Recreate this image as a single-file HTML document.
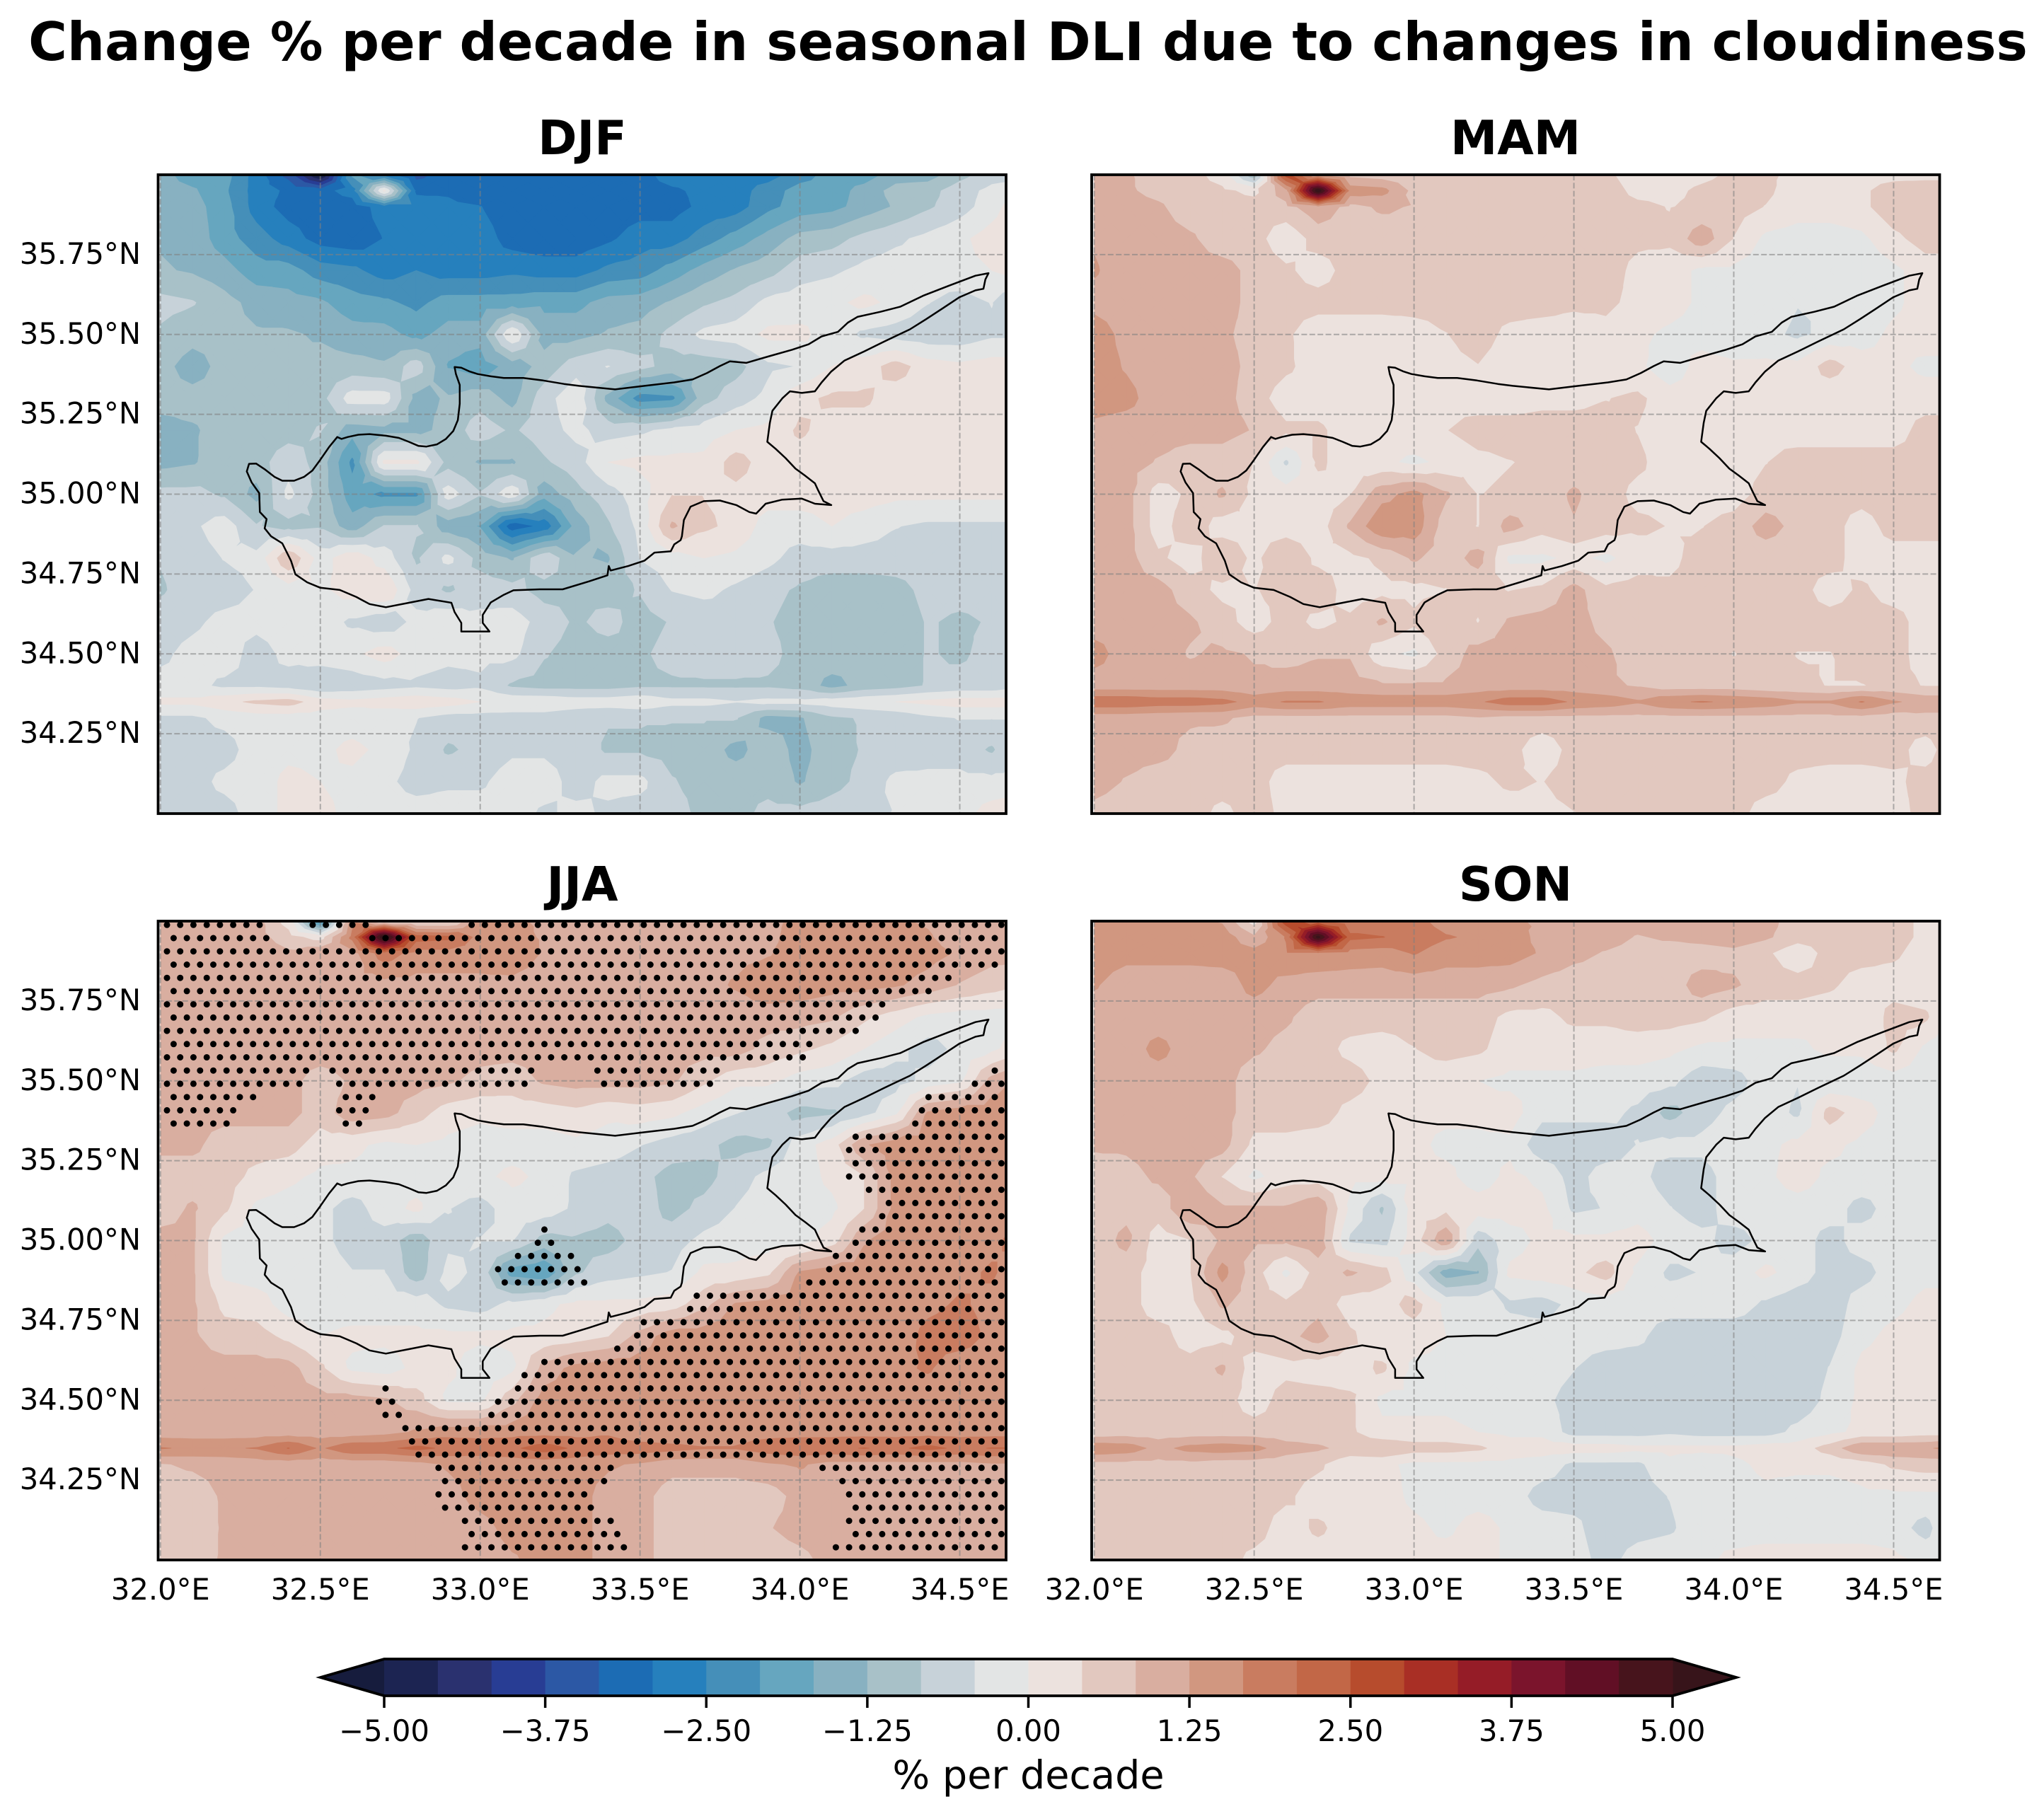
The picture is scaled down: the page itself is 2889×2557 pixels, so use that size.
<!DOCTYPE html>
<html lang="en">
<head>
<meta charset="utf-8">
<title>Change % per decade in seasonal DLI due to changes in cloudiness</title>
<style>
html,body{margin:0;padding:0;background:#fff;}
svg{display:block;}
text{font-family:"DejaVu Sans","Liberation Sans",sans-serif;fill:#000;}
.title{font-weight:bold;font-size:74.7px;text-anchor:middle;}
.ptitle{font-weight:bold;font-size:66.6px;text-anchor:middle;}
.tick{font-size:41.67px;}
</style>
</head>
<body>
<svg id="fig" xmlns="http://www.w3.org/2000/svg" width="2889" height="2557" viewBox="0 0 2889 2557">
<rect x="0" y="0" width="2889" height="2557" fill="#fff"/>
<text class="title" x="1453" y="85">Change % per decade in seasonal DLI due to changes in cloudiness</text>
<text class="ptitle" x="823" y="218">DJF</text>
<text class="ptitle" x="2142" y="218">MAM</text>
<text class="ptitle" x="823" y="1273">JJA</text>
<text class="ptitle" x="2142" y="1273">SON</text>
<text class="cbar-label" x="1453.5" y="2528" font-size="55.6" text-anchor="middle">% per decade</text>
<g id="panels"></g>
<g id="colorbar"></g>
</svg>
<script>
const lonValues=[32,32.1,32.2,32.3,32.4,32.5,32.6,32.7,32.8,32.9,33,33.1,33.2,33.3,33.4,33.5,33.6,33.7,33.8,33.9,34,34.1,34.2,34.3,34.4,34.5,34.6,34.65];
const latValues=[36,35.95,35.9,35.8,35.7,35.6,35.5,35.4,35.3,35.2,35.1,35,34.9,34.8,34.7,34.6,34.5,34.4,34.35,34.3,34.2,34.1,34];
const lonTicks=[32,32.5,33,33.5,34,34.5];
const lonTickLabels=["32.0°E","32.5°E","33.0°E","33.5°E","34.0°E","34.5°E"];
const latTicks=[35.75,35.5,35.25,35,34.75,34.5,34.25];
const latTickLabels=["35.75°N","35.50°N","35.25°N","35.00°N","34.75°N","34.50°N","34.25°N"];
const colorbarTicks=[-5,-3.75,-2.5,-1.25,0,1.25,2.5,3.75,5];
const colorbarTickLabels=["−5.00","−3.75","−2.50","−1.25","0.00","1.25","2.50","3.75","5.00"];
const bandColors=["#161c3d","#1c2452","#2a316f","#283d94","#2c58a5","#1c6cb4","#2680bd","#458fb9","#66a6bf","#88b1c1","#a8c1c8","#c7d2d9","#e3e5e5","#ece2de","#e2c8bf","#d9aea0","#d19780","#c97c60","#c26747","#b74c2d","#a92f25","#951c27","#7b142c","#610f25","#47141c","#37141a"];
const djfValues=[
[-1.5,-1.9,-1.9,-2.7,-3.5,-5.2,-2,-2.7,-3.5,-3.1,-3.1,-3.1,-3.1,-3.1,-3.1,-3.1,-2.7,-2.7,-2.7,-2.7,-2.3,-1.9,-1.9,-1.45,-1.45,-1,-.6,-.6],
[-1.5,-1.6,-2,-2.7,-3,-3.1,-2.7,.1,-3,-3,-3.3,-3.1,-3,-3,-3.1,-3.1,-3,-2.8,-2.7,-2.3,-1.9,-1.9,-1.5,-1.1,-1,-.6,-.3,-.2],
[-1.4,-1.5,-1.9,-2.7,-3.1,-3.2,-3.2,-2.7,-2.7,-2.8,-2.9,-3.2,-3.2,-3.2,-3.2,-3.1,-3.1,-2.8,-2.7,-2.2,-1.9,-1.8,-1.5,-1.2,-.9,-.6,-.2,.1],
[-1.3,-1.4,-1.9,-2.3,-2.7,-3.1,-3.2,-2.9,-2.7,-2.7,-2.7,-3.1,-3.2,-3.2,-3,-2.7,-2.7,-2.3,-1.9,-1.5,-1.1,-1,-.7,-.5,-.3,-.1,.2,.3],
[-1.2,-1.3,-1.5,-1.9,-1.9,-2.3,-2.4,-2.7,-2.5,-2.7,-2.7,-2.6,-2.7,-2.7,-2.4,-2.3,-1.9,-1.5,-1.2,-1,-.6,-.5,-.3,-.2,-.2,-.1,0,.1],
[-.7,-.8,-1.1,-1.4,-1.5,-1.6,-1.9,-2,-2.2,-1.9,-1.9,-1.9,-1.8,-1.8,-1.5,-1.45,-1.2,-.9,-.7,-.3,-.2,-.1,.1,-.1,-.4,-.6,-.4,-.7],
[-.9,-1.1,-1.1,-1.2,-1.2,-1.3,-1.5,-1.5,-1.8,-1.5,-1.5,0,-1.4,-1.4,-1.2,-1.1,-.7,-.3,-.2,.1,.1,-.2,-.5,-.6,-.7,-.7,-.5,-.5],
[-1.1,-1.45,-1.1,-1.1,-1.2,-1.1,-1.1,-1.2,-.6,-1.7,-1.9,-1.5,-1.1,-.6,-.4,-.7,-1,-1.1,-1,-.5,-.4,0,.2,.6,.2,.1,.2,.2],
[-1.1,-1.1,-1.1,-1.1,-1,-1,-.2,-.2,-1.4,-1.2,-1,-1.4,-.6,-.1,-1.4,-2.3,-2.2,-1,-.6,-.3,.3,.5,.5,.2,.2,.2,.2,.2],
[-1.4,-1.3,-1.1,-1.1,-1,-.8,-1.5,-1.4,-1.4,-1.1,-.6,-.9,-.6,-.3,-.6,-.5,-.3,-.2,0,.1,.5,.2,.2,.2,.2,.2,.2,.2],
[-1.4,-1.3,-1,-1,-.6,-1,-2.2,.1,.1,-1,-1.3,-1.3,-.9,-.6,0,.1,.1,.1,.6,.2,.2,.1,.2,.2,.2,.2,.2,.2],
[-.7,-.7,-.9,-1.4,-.3,-1,-1.9,-2.2,-2.2,-.2,-.8,-.1,-1.5,-1,-.6,-.2,.4,.4,.3,.2,.2,.2,.2,.1,.1,.1,.1,.1],
[-.6,-.5,-.2,-.8,-1,-.9,-1.5,-.8,-.8,-1.5,-1.7,-3.2,-2.8,-1.5,-.9,-.3,.9,.5,.3,-.2,-.2,0,-.2,-.4,-.5,-.5,-.5,-.5],
[-.8,-.6,-.4,-.3,.8,-.2,.3,-.2,-.9,-.3,-1,-1.3,-.5,-1.2,-1.3,-.4,-.2,0,-.1,-.3,-.6,-.6,-.6,-.6,-.6,-.7,-.7,-.7],
[-.9,-.6,-.6,-.4,-.2,-.1,.2,.4,-.6,-.9,-.6,-.7,-1,-.9,-1,-.8,-.4,-.3,-.5,-.7,-.9,-1.1,-1.1,-1,-.7,-.7,-.7,-.6],
[-.6,-.5,-.3,-.3,-.2,-.2,-.5,-.7,-.3,-.1,-.3,-.2,-.6,-.9,-.7,-1,-.8,-.7,-.6,-.8,-1,-1.1,-1.1,-1.1,-.8,-.9,-.8,-.8],
[-.5,-.3,-.2,-.6,-.3,-.2,-.1,.2,-.2,-.3,-.3,-.3,-.8,-1,-1,-.9,-.7,-.6,-.6,-.7,-1,-1,-1.1,-1.1,-.8,-.9,-.7,-.7],
[-.3,-.3,-.5,-.5,-.6,-.8,-.7,-.6,-.5,-.6,-.5,-.9,-1,-1,-1,-.9,-.9,-.9,-.9,-.9,-1,-1.4,-1.1,-1,-.8,-.7,-.7,-.6],
[.1,.1,.3,.5,.6,.2,.1,.2,.3,.2,0,-.1,-.1,-.2,-.2,-.1,-.3,-.3,-.4,-.3,-.3,-.2,-.1,0,.1,.2,.2,.2],
[-.5,-.5,-.3,-.2,-.2,-.2,-.2,-.3,-.4,-.6,-.6,-.6,-.6,-.7,-.8,-.8,-.8,-.8,-.8,-1.4,-1.3,-.9,-.8,-.7,-.5,-.4,-.4,-.4],
[-.6,-.6,-.6,-.2,-.1,-.1,.1,-.1,-.5,-.9,-.7,-.5,-.5,-.6,-.9,-.9,-1,-1,-1.4,-1,-1.4,-1,-.8,-.7,-.6,-.6,-.9,-.6],
[-.6,-.6,-.3,-.2,.1,0,-.1,-.3,-.6,-.5,-.5,-.2,-.2,-.6,-.3,-.3,-.8,-1,-1,-1,-1.3,-1,-.7,-.3,-.3,-.3,-.3,-.3],
[-.6,-.6,-.6,-.2,.1,.1,-.1,-.2,-.2,-.2,-.2,-.2,-.5,-.3,-.5,-.6,-.6,-1,-1,-.7,-.7,-.6,-.5,-.4,-.3,-.2,.2,.3]
];
const mamValues=[
[1,.9,.6,.6,.2,-1.2,2.7,1.2,.7,.6,.6,.6,.6,.6,.6,.6,.5,.2,.2,.3,.5,.5,.3,.2,.2,.2,.2,.2],
[1,.9,.7,.6,.5,.3,1.1,5.4,1.5,1.4,.7,.6,.6,.6,.6,.6,.6,.3,.3,.5,.6,.5,.2,.2,.3,.7,.8,.8],
[1,1,.9,.6,.6,.6,.7,1.1,.7,.9,.8,.6,.6,.6,.6,.6,.6,.5,.4,.5,.6,.4,.2,.2,.3,.7,.8,.8],
[1.2,1,1,.9,.6,.6,.1,.6,.6,.6,.7,.6,.6,.6,.6,.6,.6,.5,.5,1.1,.4,-.1,-.2,-.2,-.1,.3,.6,.6],
[1.3,1,1,1,1,.7,.5,.2,.6,.6,.6,.6,.6,.6,.6,.6,.6,.3,.2,-.1,-.1,-.2,-.3,-.3,-.3,-.1,.2,.2],
[1.1,1,1,1,1,.7,.6,.6,.6,.6,.6,.6,.6,.6,.6,.5,.5,.3,.2,-.1,-.2,-.2,-.4,-.4,-.3,-.1,.2,.2],
[1.5,1.1,1,1,.9,.7,.5,.1,.1,.1,.2,.4,.6,.3,.2,.2,.3,.1,-.1,-.2,-.4,-.3,-.5,-.3,-.2,.1,.2,.2],
[1.5,1.2,1,1,1,.7,.5,.2,.1,.2,.2,.3,.4,.2,.1,.1,.1,.1,-.3,.2,.1,.1,.1,.6,.2,.1,-.1,-.1],
[1.5,1.4,1,1,1,.6,.2,.2,.1,.2,.2,.3,.2,.2,.3,.3,.4,.5,.2,.2,.4,.2,.2,.1,.1,.2,.2,.2],
[1.1,1,1,1,1,.8,.5,.5,.2,.2,.3,.4,.6,.6,.6,.6,.6,.4,.2,.3,.4,.3,.2,.2,.2,.2,.6,.6],
[1,1,.8,.6,.6,.4,-.5,.5,.2,.1,-.1,.1,.3,.4,.5,.6,.6,.5,.2,.2,.2,.4,.6,.6,.6,.6,.6,.6],
[1,1,.2,.5,.9,.3,.2,.2,.4,1.1,1.4,.9,.4,.5,.6,.9,.6,.3,.3,.2,.2,.6,.6,.6,.6,.7,.7,.7],
[1,1,.2,.7,.2,.3,.2,.2,.9,1.6,1.5,.6,.4,1,.6,.8,.6,.5,.4,.4,.6,1,.7,.6,.2,.6,.6,.6],
[1,1,.5,.2,.8,.3,.8,.3,.3,.5,.9,.6,1,-.1,-.1,.1,-.1,.2,.3,.6,.6,.6,.6,.6,.2,.2,.2,.2],
[1,1,1,.6,.3,.4,.5,.7,.2,.3,.3,.4,.5,.4,.5,1,.5,.6,.5,.6,.6,.6,.6,.2,.5,.2,.2,.2],
[1,1,1,.9,.6,.2,.6,.3,.5,.9,.5,.8,.4,.9,1,1,.7,.6,.6,.6,.6,.6,.6,.6,.6,.6,.2,.2],
[1.45,1,1,.8,.9,.8,.7,.8,.8,.1,-.1,.6,1,1,1,1,.9,.6,.6,.6,.4,.6,.4,.4,.6,.6,.2,.2],
[1,1,1,1,1,.9,1,1,1,.9,.9,.9,1,1,1,1,.9,.8,.6,.6,.6,.5,.5,.4,.4,.5,.4,.4],
[2,2,1.9,1.9,1.8,1.5,1.7,1.7,1.5,1.5,1.5,1.5,1.6,1.9,1.9,1.6,1.5,1.3,1.6,1.7,1.6,1.5,1.3,1.3,1.7,1.3,1.1,1.1],
[1,1,.95,.9,.9,.7,.7,.7,.7,.7,.7,.7,.8,.7,.7,.7,.7,.7,.7,.7,.7,.7,.7,.7,.7,.6,.7,.7],
[1,1,1,.7,.6,.6,.6,.6,.6,.6,.6,.6,.6,.6,.1,.6,.6,.6,.6,.6,.6,.6,.6,.6,.6,.6,.2,.5],
[1,.8,.6,.6,.6,.6,.2,.2,.2,.2,.2,.2,.3,.5,.4,.6,.6,.6,.6,.6,.6,.6,.3,.2,.2,.3,.6,.6],
[.7,.6,.6,.6,.3,.6,.3,.2,.2,.2,.2,.2,.2,.2,.3,.4,.6,.6,.6,.6,.6,.2,.2,.2,.2,.2,.6,.6]
];
const jjaValues=[
[1,1,1,1,.2,-2.5,1.5,.2,.2,.2,1.5,1.3,1.2,1.1,1.1,1.1,1.1,1.1,1.1,1.1,1.4,1.4,1.4,1.3,1.2,1,1,1],
[1,1,1,1,.6,.2,1.8,5.5,2.3,2.2,1.5,1.4,1.2,1.1,1.1,1.1,1.1,1.2,1.1,1.1,1.5,1.5,1.5,1.4,1.3,1,1,1],
[1.1,1.1,1.1,1.1,.9,1.2,1.1,1.9,1.5,1.5,1.5,1.6,1.2,1.1,1.1,1.1,1.1,1.1,1.1,1.2,1.5,1.5,1.5,1.5,1.4,1.2,1,1],
[1.1,1.1,1.1,1.1,1.1,1.1,1.1,1.1,1.1,1.1,1.1,1.1,1,1,1.1,1.1,1.1,1.1,1.3,1.6,1.5,1.4,1.4,1.3,1.1,.8,.6,.5],
[1.1,1.1,1.1,1.1,1.1,1.1,1.1,1.1,1.1,1.1,1.1,1.1,1.1,1.1,1.1,1.2,1.1,1,1,1,1,.9,.5,.2,-.1,-.2,-.2,-.2],
[1.1,1.1,1.1,1.1,1.1,1.1,1.1,1.1,1.1,1.1,1,1,1,1,1,1.1,1,1,1,.7,.5,.3,0,-.3,-.6,-.3,-.1,.1],
[1.1,1.1,1,1,1,.6,.9,1,1,.9,.7,.6,.9,1,1,1,.9,.5,.1,.1,-.2,-.3,-.6,-.6,-.3,-.1,1,1.2],
[1,1,1,1,1,.6,1.1,1,.6,.2,.1,.2,.2,.3,.1,.2,.1,-.2,-.4,-.6,-1,-.9,-.6,-.1,1.3,1.5,1.5,1.5],
[.95,.95,.6,.6,.6,.2,.1,-.1,0,-.1,-.2,-.2,-.2,-.1,-.2,-.4,-.6,-.7,-1,-.9,-.2,.2,1.2,1.5,1.5,1.5,1.5,1.5],
[.6,.6,.6,.3,.1,-.1,-.1,-.2,-.2,-.2,-.1,.1,-.1,-.5,-.6,-.7,-1,-1,-.6,-.3,-.2,.1,.4,1.4,1.5,1.5,1.5,1.5],
[.6,.9,.5,-.1,-.2,-.3,-.6,-.2,.1,-.4,-.6,-.2,-.2,-.5,-.7,-.6,-1,-.7,-.4,-.2,-.2,-.1,.4,1.4,1.5,1.5,1.5,1.5],
[1,.9,-.1,-.2,-.2,-.3,-.6,-.6,-1.1,-.5,-.4,-.4,-1,-.9,-1,-.7,-.6,-.3,-.2,-.2,-.2,.2,1.2,1.5,1.5,1.5,1.6,1.7],
[1.05,.9,-.1,-.2,-.2,-.2,-.4,-.4,-1.1,-.3,-.5,-1.9,-2.1,-.9,-.6,-.5,-.4,.1,.1,.3,1.3,1.5,1.5,1.5,1.5,1.6,1.7,1.6],
[.9,.9,.3,.2,-.2,-.2,-.2,-.2,-.2,-.5,-.6,-.3,-.1,.1,.1,.1,.2,.7,1.3,1.4,1.5,1.5,1.5,1.5,1.6,1.7,1.6,1.5],
[.9,.9,.6,.6,.3,0,.1,.1,.1,.1,.1,.1,.1,.2,.4,1,1.5,1.5,1.5,1.5,1.5,1.5,1.5,1.5,1.75,1.8,1.6,1.5],
[.9,1,1,1,1,.5,-.1,-.2,.1,.1,-.3,-.1,1,1.4,1.5,1.5,1.5,1.5,1.5,1.5,1.5,1.5,1.5,1.6,1.7,1.5,1.5,1.5],
[1,.9,1,1,1,1,1,.9,.6,-.1,-.1,.7,1.45,1.5,1.5,1.5,1.5,1.5,1.5,1.5,1.5,1.5,1.5,1.5,1.5,1.5,1.5,1.5],
[1,1,1,1,1,1,1,1.1,1.3,1.5,1.5,1.5,1.5,1.5,1.6,1.3,1.3,1.3,1.5,1.5,1.5,1.5,1.5,1.5,1.5,1.5,1.5,1.5],
[1.7,1.6,1.6,1.7,2.1,1.6,2,2,2.2,2,1.9,2,2.3,2,1.9,1.9,1.8,1.7,1.7,1.9,2,2,2.1,2,2.2,2,2.1,2.1],
[.8,.9,.95,1,1,1,1,1,1.1,1.3,1.4,1.4,1.4,1.4,1.3,1.2,1,1,1,1.2,1.3,1.1,1.1,1.1,1.1,1.1,1.2,1.2],
[.6,.6,.9,1,1,1,1,1,1,1.1,1.4,1.5,1.4,1.4,1.1,1,.6,.6,.6,.6,1,1,1.2,1.1,1.1,1.1,1.1,1.1],
[.6,.5,.9,1,1,1,1,1,1,1,1.1,1.4,1.4,1.4,1.1,1,.6,.6,.6,.8,1,1.1,1.1,1.1,1.1,1.1,1.1,1.1],
[.6,.6,.9,1,1,1,1,1,1,1,1,1.2,1.4,1.4,1.1,1,.6,.6,.6,.6,.7,1,1.1,1.1,1.1,1.1,1.1,1.1]
];
const sonValues=[
[1.5,1.5,1.5,1.5,1.2,.2,2.8,2.1,1.7,1.8,1.8,1.5,1.45,1.3,1.2,1,1,1,1.1,1.1,1.2,1,.6,.6,.6,.6,.3,.2],
[1.5,1.5,1.5,1.5,1.5,.9,1.7,5.2,2.2,2.1,1.9,1.7,1.6,1.5,1.1,1,1,.8,.9,1,1.1,.9,.6,.6,.6,.6,.3,.2],
[1.5,1.4,1.4,1.4,1.45,1.4,1.6,1.6,1.5,1.45,1.7,1.45,1.45,1.45,1.2,.95,.8,.7,.6,.6,.7,.5,.1,.6,.6,.5,.2,.2],
[1.3,1,1,1,1,1.4,1.1,1,1,1,1,1,1,.9,.7,.6,.6,.6,.6,1.05,.9,.6,.6,.5,.2,.2,.1,.1],
[1,1,1,1,1,1,.9,.6,.6,.6,.6,.6,.6,.3,.3,.5,.5,.6,.6,.5,.2,.2,.2,.1,0,.6,.5,.1],
[1,1,1.4,1,1,.9,.7,.6,.3,.2,.4,.6,.5,.2,.2,.2,.2,.2,.1,-.1,-.1,-.1,-.1,.1,.1,.5,-.1,-.2],
[1,1,1,1,1,.6,.6,.6,.6,.3,.2,.1,0,-.1,-.1,-.1,-.2,-.2,-.3,-.7,-.6,-.2,-.4,-.4,-.3,-.2,-.2,-.2],
[1,1,1,1,1,.6,.6,.6,.3,.2,.1,.1,.1,.2,-.3,-.3,-.3,-.5,-1,-.6,-.3,-.2,-.5,.6,.2,-.2,-.2,-.2],
[.9,.9,1,1,1,.3,.3,.2,.2,.2,.1,-.1,-.1,-.1,-.7,-.7,-.7,-.4,-.3,-.3,-.1,-.1,.1,.1,-.1,-.2,-.2,-.2],
[.6,.7,.9,.9,.4,-.1,.2,.2,.1,.1,.1,.1,-.2,.1,-.1,-.6,-.2,-.3,-.6,-.6,-.2,-.1,.2,-.1,-.1,-.2,-.2,-.2],
[.6,.7,.6,1.2,.9,.9,.9,1.2,-.1,-.9,.2,.3,.2,.2,.1,-.5,-.4,-.2,-.4,-.6,-.2,-.2,-.2,-.2,-.6,-.2,-.2,-.2],
[.6,.95,.2,.4,.9,.9,.9,1.1,-.5,-.6,.2,1.2,-.7,-.2,.1,.1,.1,.2,-.2,-.3,-.6,-.3,-.2,-.6,-.2,-.2,-.2,-.2],
[.6,.6,.2,.4,1.4,.6,-.1,.6,.9,.6,-.3,-1.5,-1.3,.1,.2,.3,.6,-.1,-.5,-.4,-.2,.1,-.2,-.6,-.6,-.2,-.1,-.1],
[.6,.6,.2,.3,.9,.6,.5,.7,.2,.2,.6,-.1,-.1,-.5,-.6,-.3,-.2,-.2,-.2,-.2,-.2,-.5,-.7,-.7,-.2,-.1,.1,.1],
[.6,.6,.6,.2,.3,.6,.7,1,.5,.1,.2,0,-.1,-.2,-.2,-.2,-.2,-.3,-.7,-.7,-.7,-.7,-.7,-.6,-.1,.1,.2,.2],
[.6,.6,.6,.6,.9,.2,.3,.2,.2,.5,-.1,-.1,-.2,-.2,-.2,-.4,-.7,-.7,-.7,-.7,-.7,-.7,-.7,-.4,.1,.2,.2,.2],
[.5,.6,.6,.6,.6,.2,.6,.6,.5,-.1,-.1,-.1,-.2,-.2,-.3,-.6,-.7,-.7,-.7,-.7,-.7,-.7,-.7,-.3,.1,.2,.2,.2],
[.5,.6,.6,.6,.6,.6,.6,.6,.5,.1,.1,.1,0,-.1,-.1,-.6,-.6,-.6,-.5,-.6,-.6,-.6,-.3,-.1,.1,.1,.2,.2],
[1.6,1.5,1.1,1.4,1.5,1.4,1,.9,.7,.8,.6,.6,.5,.2,.2,.2,.2,.1,.1,.1,.1,.2,.2,.6,1.2,1.2,1.2,1.3],
[.7,.7,.7,.7,.6,.6,.6,.5,.1,.1,-.1,-.1,-.1,-.1,-.2,-.5,-.5,-.5,-.1,-.3,-.1,.1,.1,.1,.2,.5,.6,.6],
[.6,.6,.6,.6,.6,.6,.5,.2,.2,.2,-.1,-.2,-.2,-.2,-.6,-.6,-.6,-.6,-.4,-.1,-.2,-.1,-.2,-.2,-.1,-.1,-.1,-.1],
[.6,.6,.6,.6,.6,.6,.2,.5,.2,.2,.1,-.1,.2,-.1,-.2,-.3,-.7,-.6,-.5,-.1,-.2,-.2,-.2,-.2,-.2,-.2,-.6,-.2],
[.6,.6,.6,.6,.6,.3,.2,.2,.2,.2,.1,.2,.2,-.1,-.1,-.2,-.6,-.2,-.1,-.1,.1,.2,.2,.2,.2,.1,-.1,-.2]
];
const jjaSignificant=[
[1,1,1,1,0,1,1,0,0,0,1,1,1,1,1,1,1,1,1,1,1,1,1,1,1,1,1,1],
[1,1,1,1,0,0,0,1,1,1,1,1,1,1,1,1,1,1,1,1,1,1,1,1,1,1,1,1],
[1,1,1,1,1,1,1,1,1,1,1,1,1,1,1,1,1,1,1,1,1,1,1,1,1,1,1,1],
[1,1,1,1,1,1,1,1,1,1,1,1,1,1,1,1,1,1,1,1,1,1,1,1,1,0,0,0],
[1,1,1,1,1,1,1,1,1,1,1,1,1,1,1,1,1,1,1,1,1,1,1,0,0,0,0,0],
[1,1,1,1,1,1,1,1,1,1,1,1,1,1,1,1,1,1,1,1,1,0,0,0,0,0,0,0],
[1,1,1,1,1,0,1,1,1,1,1,1,0,0,1,1,1,1,0,0,0,0,0,0,0,0,1,1],
[1,1,1,0,0,0,1,0,0,0,0,0,0,0,0,0,0,0,0,0,0,0,0,0,1,1,1,1],
[0,0,0,0,0,0,0,0,0,0,0,0,0,0,0,0,0,0,0,0,0,0,1,1,1,1,1,1],
[0,0,0,0,0,0,0,0,0,0,0,0,0,0,0,0,0,0,0,0,0,0,1,1,1,1,1,1],
[0,0,0,0,0,0,0,0,0,0,0,0,0,0,0,0,0,0,0,0,0,0,0,1,1,1,1,1],
[0,0,0,0,0,0,0,0,0,0,0,0,1,0,0,0,0,0,0,0,0,0,1,1,1,1,1,1],
[0,0,0,0,0,0,0,0,0,0,0,1,1,1,0,0,0,0,0,0,0,1,1,1,1,1,1,1],
[0,0,0,0,0,0,0,0,0,0,0,0,0,0,0,0,0,1,1,1,1,1,1,1,1,1,1,1],
[0,0,0,0,0,0,0,0,0,0,0,0,0,0,0,1,1,1,1,1,1,1,1,1,1,1,1,1],
[0,0,0,0,0,0,0,0,0,0,0,0,1,1,1,1,1,1,1,1,1,1,1,1,1,1,1,1],
[0,0,0,0,0,0,0,1,0,0,0,1,1,1,1,1,1,1,1,1,1,1,1,1,1,1,1,1],
[0,0,0,0,0,0,0,0,1,1,1,1,1,1,1,1,1,1,1,1,1,1,1,1,1,1,1,1],
[0,0,0,0,0,0,0,0,1,1,1,1,1,1,1,1,1,1,1,1,1,1,1,1,1,1,1,1],
[0,0,0,0,0,0,0,0,0,1,1,1,1,1,1,0,0,0,0,0,0,1,1,1,1,1,1,1],
[0,0,0,0,0,0,0,0,0,1,1,1,1,1,0,0,0,0,0,0,0,0,1,1,1,1,1,1],
[0,0,0,0,0,0,0,0,0,0,1,1,1,1,1,0,0,0,0,0,0,0,1,1,1,1,1,1],
[0,0,0,0,0,0,0,0,0,0,1,1,1,1,1,0,0,0,0,0,0,1,1,1,1,1,1,1]
];
const coastLon=[32.277,32.299,32.326,32.357,32.381,32.418,32.449,32.475,32.5,32.527,32.553,32.566,32.586,32.619,32.654,32.705,32.746,32.777,32.807,32.832,32.865,32.893,32.916,32.93,32.936,32.936,32.924,32.92,32.941,32.967,32.992,33.033,33.074,33.135,33.197,33.262,33.309,33.422,33.514,33.607,33.664,33.709,33.75,33.781,33.832,33.904,33.975,34.027,34.068,34.119,34.15,34.18,34.252,34.314,34.385,34.467,34.549,34.59,34.58,34.574,34.549,34.498,34.447,34.395,34.344,34.262,34.201,34.139,34.098,34.068,34.047,34.006,33.969,33.945,33.914,33.906,33.898,33.924,33.955,33.986,34.016,34.047,34.057,34.074,34.098,34.047,34.006,33.945,33.893,33.863,33.842,33.801,33.75,33.699,33.658,33.637,33.631,33.627,33.607,33.596,33.545,33.514,33.463,33.408,33.402,33.398,33.34,33.258,33.186,33.104,33.074,33.033,33.008,33.008,33.029,32.941,32.941,32.92,32.91,32.838,32.777,32.705,32.654,32.613,32.561,32.5,32.459,32.422,32.408,32.381,32.346,32.326,32.332,32.311,32.309,32.285,32.27,32.277];
const coastLat=[35.095,35.096,35.078,35.054,35.042,35.042,35.054,35.074,35.108,35.147,35.179,35.173,35.179,35.186,35.188,35.183,35.176,35.164,35.151,35.149,35.156,35.173,35.198,35.232,35.283,35.342,35.376,35.398,35.396,35.384,35.376,35.369,35.364,35.364,35.356,35.345,35.339,35.328,35.339,35.35,35.359,35.379,35.401,35.416,35.411,35.432,35.452,35.469,35.494,35.508,35.537,35.555,35.571,35.587,35.621,35.653,35.684,35.692,35.672,35.643,35.638,35.616,35.582,35.548,35.516,35.477,35.447,35.418,35.384,35.35,35.322,35.317,35.322,35.3,35.261,35.223,35.164,35.142,35.113,35.08,35.058,35.034,35.012,34.978,34.966,34.97,34.986,34.983,34.97,34.939,34.944,34.966,34.98,34.978,34.961,34.919,34.868,34.856,34.843,34.821,34.817,34.792,34.775,34.761,34.775,34.746,34.727,34.702,34.702,34.699,34.685,34.661,34.622,34.597,34.57,34.57,34.597,34.631,34.66,34.672,34.66,34.646,34.656,34.678,34.7,34.707,34.724,34.749,34.792,34.846,34.868,34.893,34.922,34.944,35.003,35.037,35.071,35.095];

const NS='http://www.w3.org/2000/svg';
const PX_PER_DEG_X=451.9, PX_PER_DEG_Y=451.5;
const levels=Array.from({length:25},(_,i)=>-5+i*10/24);
const panelSpecs=[
 {key:'djf',values:djfValues,left:223.5,right:1422,top:247,bottom:1150,x0:226.8,yLabels:true,xLabels:false},
 {key:'mam',values:mamValues,left:1543,right:2741.5,top:247,bottom:1150,x0:1546.7,yLabels:false,xLabels:false},
 {key:'jja',values:jjaValues,left:223.5,right:1422,top:1302,bottom:2205,x0:226.8,yLabels:true,xLabels:true,sig:jjaSignificant},
 {key:'son',values:sonValues,left:1543,right:2741.5,top:1302,bottom:2205,x0:1546.7,yLabels:false,xLabels:true}
];
function mk(tag,attrs,parent){
  const e=document.createElementNS(NS,tag);
  for(const k in attrs)e.setAttribute(k,attrs[k]);
  if(parent)parent.appendChild(e);
  return e;
}
function clipAbove(poly,l){
  const out=[];
  for(let i=0;i<poly.length;i++){
    const a=poly[i],b=poly[(i+1)%poly.length];
    const ia=a[2]>=l,ib=b[2]>=l;
    if(ia)out.push(a);
    if(ia!==ib){const t=(l-a[2])/(b[2]-a[2]);out.push([a[0]+t*(b[0]-a[0]),a[1]+t*(b[1]-a[1]),l]);}
  }
  return out;
}
function clipBelow(poly,l){
  const out=[];
  for(let i=0;i<poly.length;i++){
    const a=poly[i],b=poly[(i+1)%poly.length];
    const ia=a[2]<=l,ib=b[2]<=l;
    if(ia)out.push(a);
    if(ia!==ib){const t=(l-a[2])/(b[2]-a[2]);out.push([a[0]+t*(b[0]-a[0]),a[1]+t*(b[1]-a[1]),l]);}
  }
  return out;
}
function bandPaths(values,sx,sy){
  const d=bandColors.map(()=>[]);
  const lows=[-Infinity].concat(levels), highs=levels.concat([Infinity]);
  for(let r=0;r<latValues.length-1;r++){
    for(let c=0;c<lonValues.length-1;c++){
      const x0=sx(lonValues[c]),x1=sx(lonValues[c+1]),y0=sy(latValues[r]),y1=sy(latValues[r+1]);
      const p=[[x0,y0,values[r][c]],[x1,y0,values[r][c+1]],[x1,y1,values[r+1][c+1]],[x0,y1,values[r+1][c]]];
      const m=[(x0+x1)/2,(y0+y1)/2,(p[0][2]+p[1][2]+p[2][2]+p[3][2])/4];
      for(let t=0;t<4;t++){
        const tri=[p[t],p[(t+1)%4],m];
        const mn=Math.min(tri[0][2],tri[1][2],tri[2][2]),mx=Math.max(tri[0][2],tri[1][2],tri[2][2]);
        for(let b=0;b<bandColors.length;b++){
          if(mx<lows[b]||mn>highs[b])continue;
          let q=tri;
          if(isFinite(lows[b]))q=clipAbove(q,lows[b]);
          if(q.length&&isFinite(highs[b]))q=clipBelow(q,highs[b]);
          if(q.length<3)continue;
          d[b].push('M'+q.map(v=>v[0].toFixed(1)+' '+v[1].toFixed(1)).join('L')+'Z');
        }
      }
    }
  }
  return d;
}
function sigAt(grid,lon,lat){
  if(lon<lonValues[0]||lon>lonValues[lonValues.length-1]||lat>latValues[0]||lat<latValues[latValues.length-1])return 0;
  let c=0;while(c<lonValues.length-2&&lon>lonValues[c+1])c++;
  let r=0;while(r<latValues.length-2&&lat<latValues[r+1])r++;
  const u=(lon-lonValues[c])/(lonValues[c+1]-lonValues[c]),v=(latValues[r]-lat)/(latValues[r]-latValues[r+1]);
  return (1-u)*(1-v)*grid[r][c]+u*(1-v)*grid[r][c+1]+(1-u)*v*grid[r+1][c]+u*v*grid[r+1][c+1];
}
const panelsRoot=document.getElementById('panels');
panelSpecs.forEach(function(P){
  const sx=lon=>P.x0+(lon-32)*PX_PER_DEG_X;
  const sy=lat=>P.top+(36-lat)*PX_PER_DEG_Y;
  const lonOf=x=>32+(x-P.x0)/PX_PER_DEG_X;
  const latOf=y=>36-(y-P.top)/PX_PER_DEG_Y;
  const g=mk('g',{},panelsRoot);
  
  
  const clipId='clip-'+P.key;
  const defs=mk('defs',{},g);
  const cp=mk('clipPath',{id:clipId},defs);
  mk('rect',{x:P.left,y:P.top,width:P.right-P.left,height:P.bottom-P.top},cp);
  const body=mk('g',{'clip-path':'url(#'+clipId+')'},g);
  const paths=bandPaths(P.values,sx,sy);
  paths.forEach(function(list,b){
    if(!list.length)return;
    const el=mk('path',{d:list.join(''),fill:bandColors[b],stroke:bandColors[b],'stroke-width':'0.8','stroke-linejoin':'round'},body);
    
    
  });
  lonTicks.forEach(function(lon){
    const el=mk('line',{x1:sx(lon),x2:sx(lon),y1:P.top,y2:P.bottom,stroke:'#808080','stroke-opacity':'0.6','stroke-width':'2','stroke-dasharray':'8 3.4'},body);
    
    
  });
  latTicks.forEach(function(lat){
    const el=mk('line',{x1:P.left,x2:P.right,y1:sy(lat),y2:sy(lat),stroke:'#808080','stroke-opacity':'0.6','stroke-width':'2','stroke-dasharray':'8 3.4'},body);
    
    
  });
  if(P.sig){
    const dotsEl=mk('path',{fill:'#000'},body);
    
    
    let d='';
    const step=18.72;
    for(let i=0;;i++){
      const y=P.top+5.3+i*step;
      if(y>P.bottom+5)break;
      const off=(i%2===0)?236:245.36;
      for(let x=off-step*2;x<P.right+5;x+=step){
        const lon=lonOf(x);
        if(lon<32)continue;
        if(sigAt(P.sig,lon,latOf(y))>=0.5){
          d+='M'+(x-4.5).toFixed(1)+' '+y.toFixed(1)+'a4.5 4.5 0 1 0 9 0a4.5 4.5 0 1 0 -9 0Z';
        }
      }
    }
    dotsEl.setAttribute('d',d);
  }
  const coast=mk('path',{d:'M'+coastLon.map((lon,i)=>sx(lon).toFixed(1)+' '+sy(coastLat[i]).toFixed(1)).join('L')+'Z',fill:'none',stroke:'#000','stroke-width':'2.5','stroke-linejoin':'round'},body);
  
  
  const spine=mk('rect',{x:P.left,y:P.top,width:P.right-P.left,height:P.bottom-P.top,fill:'none',stroke:'#000','stroke-width':'3.8'},g);
  
  
  if(P.yLabels){
    latTicks.forEach(function(lat,i){
      const t=mk('text',{x:199,y:sy(lat)+13,'text-anchor':'end',class:'tick'},g);
      
      
      t.textContent=latTickLabels[i];
    });
  }
  if(P.xLabels){
    lonTicks.forEach(function(lon,i){
      const t=mk('text',{x:sx(lon),y:P.bottom+56,'text-anchor':'middle',class:'tick'},g);
      
      
      t.textContent=lonTickLabels[i];
    });
  }
});
(function(){
  const root=document.getElementById('colorbar');
  const cbLeft=543,cbRight=2364,cbTop=2345,cbBottom=2397,tipL=453,tipR=2454,cbMid=2371;
  const cx=v=>cbLeft+(v+5)/10*(cbRight-cbLeft);
  const under=mk('polygon',{points:cbLeft+','+cbTop+' '+tipL+','+cbMid+' '+cbLeft+','+cbBottom,fill:bandColors[0]},root);
  
  
  const over=mk('polygon',{points:cbRight+','+cbTop+' '+tipR+','+cbMid+' '+cbRight+','+cbBottom,fill:bandColors[bandColors.length-1]},root);
  
  
  for(let i=0;i<levels.length-1;i++){
    const r=mk('rect',{x:cx(levels[i]),y:cbTop,width:cx(levels[i+1])-cx(levels[i])+0.5,height:cbBottom-cbTop,fill:bandColors[i+1]},root);
    
    
  }
  const outline=mk('polygon',{points:[[cbLeft,cbTop],[cbRight,cbTop],[tipR,cbMid],[cbRight,cbBottom],[cbLeft,cbBottom],[tipL,cbMid]].map(p=>p.join(',')).join(' '),fill:'none',stroke:'#000','stroke-width':'3.8','stroke-linejoin':'miter'},root);
  
  
  colorbarTicks.forEach(function(v,i){
    const l=mk('line',{x1:cx(v),x2:cx(v),y1:cbBottom,y2:cbBottom+17,stroke:'#000','stroke-width':'3.5'},root);
    
    
    const t=mk('text',{x:cx(v),y:2461,'text-anchor':'middle',class:'tick'},root);
    
    
    t.textContent=colorbarTickLabels[i];
  });
})();
</script>
</body>
</html>
